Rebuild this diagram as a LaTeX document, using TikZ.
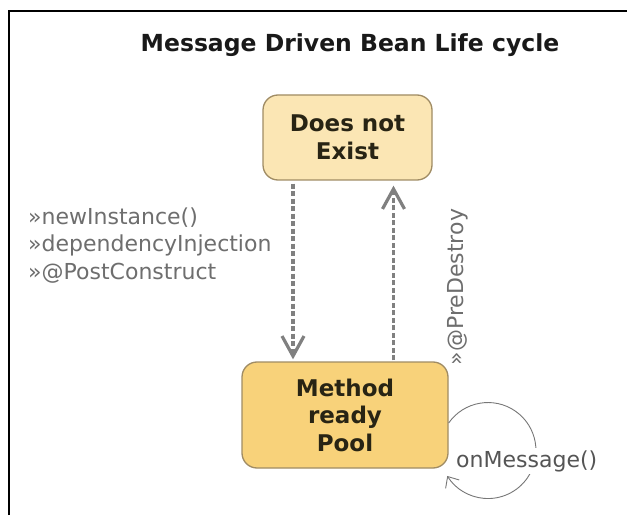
\documentclass[tikz,border=0pt]{standalone}
\usepackage{fontspec}
\setmainfont{DejaVu Sans}
\usetikzlibrary{arrows.meta}
\definecolor{topfill}{RGB}{251,230,180}
\definecolor{poolfill}{RGB}{248,210,122}
\definecolor{boxline}{RGB}{160,140,100}
\definecolor{boxtext}{RGB}{40,36,20}
\definecolor{arrgray}{RGB}{128,128,128}
\definecolor{labgray}{RGB}{110,110,110}
\definecolor{msggray}{RGB}{85,85,85}
\tikzset{
  statebox/.style={draw=boxline, line width=1.3pt, rounded corners=15pt,
    align=center, text=boxtext, inner sep=0pt,
    font=\fontsize{23}{27.5}\selectfont\bfseries},
  dasharr/.style={draw=arrgray, line width=3.5pt, dash pattern=on 5pt off 2.5pt,
    -{Straight Barb[length=20pt,width=22pt,line width=3.2pt]}},
  lbl/.style={text=labgray, inner sep=0pt, font=\fontsize{22}{27}\selectfont},
}
\begin{document}
\begin{tikzpicture}[x=1pt,y=1pt]
\useasboundingbox (0,0) rectangle (627,515);
\fill[white] (0,0) rectangle (627,515);
% frame
\draw[line width=2pt, black] (9,0) -- (9,504) -- (627,504);
% title
\node[inner sep=0pt, text=black!90, font=\fontsize{23.5}{28}\selectfont\bfseries] (title) at (350,470) {Message Driven Bean Life cycle};
% states
\node[statebox, fill=topfill, minimum width=169pt, minimum height=85pt] (top) at (347.5,377.5) {Does not\\Exist};
\node[statebox, fill=poolfill, minimum width=206pt, minimum height=106pt] (pool) at (345,100) {Method\\ready\\Pool};
% arrow x positions
\coordinate (ax) at (293,0);
\coordinate (bx) at (393.5,0);
\draw[dasharr, shorten <=3pt, shorten >=2pt] (top.south -| ax) -- (pool.north -| ax);
\draw[dasharr, shorten <=1pt, shorten >=5pt] (pool.north -| bx) -- (top.south -| bx);
% labels
\node[lbl, anchor=base west] (l1) at (28,290) {»newInstance()};
\node[lbl, anchor=base west] (l2) at (28,263) {»dependencyInjection};
\node[lbl, anchor=base west] (l3) at (28,235.5) {»@PostConstruct};
\node[lbl, rotate=90] (pd) at (458,228) {»@PreDestroy};
% self loop
\coordinate (ls) at ([yshift=-8pt]pool.east);
\draw[msggray!80, line width=0.9pt, -{Straight Barb[length=9pt,width=16pt,line width=0.9pt]}]
  (ls) arc[start angle=145, end angle=-148, radius=48];
\node[fill=white, inner sep=2pt, text=msggray, font=\fontsize{22}{27}\selectfont, anchor=base west] (msg) at (454,48) {onMessage()};
\end{tikzpicture}
\end{document}
